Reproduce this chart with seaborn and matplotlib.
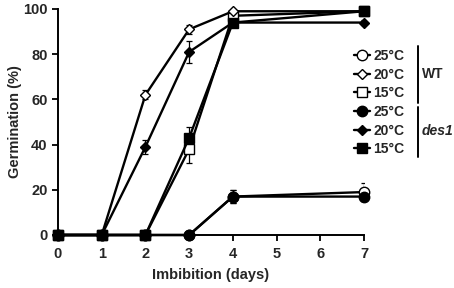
import numpy as np
import pandas as pd
import matplotlib
matplotlib.use("Agg")
import matplotlib.pyplot as plt
import seaborn as sns

# germination time course
days = [0, 1, 2, 3, 4, 7]
wt_25 = [0, 0, 0, 0, 17, 19]
wt_25_err = [0, 0, 0, 0, 3, 4]
wt_20 = [0, 0, 62, 91, 99, 99]
wt_20_err = [0, 0, 2, 2, 1, 1]
wt_15 = [0, 0, 0, 38, 97, 99]
wt_15_err = [0, 0, 0, 6, 1, 1]
des1_25 = [0, 0, 0, 0, 17, 17]
des1_25_err = [0, 0, 0, 0, 3, 2]
des1_20 = [0, 0, 39, 81, 94, 94]
des1_20_err = [0, 0, 3, 5, 1, 1]
des1_15 = [0, 0, 0, 43, 94, 99]
des1_15_err = [0, 0, 0, 5, 1, 1]

temps = ["25°C", "20°C", "15°C"]
x_ticks = [0, 1, 2, 3, 4, 5, 6, 7]
y_ticks = [0, 20, 40, 60, 80, 100]

sns.set_style("ticks")
plt.rcParams["font.family"] = ["Liberation Sans", "DejaVu Sans"]
plt.rcParams["font.weight"] = "bold"

fig = plt.figure(figsize=(4.54, 2.88), dpi=100)
ax = fig.add_axes([58 / 454, 53 / 288, 306 / 454, 226 / 288])

# (values, errors, marker, filled, size)
series = [
    (wt_15, wt_15_err, "s", False, 7.0),
    (wt_20, wt_20_err, "D", False, 5.5),
    (des1_15, des1_15_err, "s", True, 7.0),
    (des1_20, des1_20_err, "D", True, 5.5),
    (wt_25, wt_25_err, "o", False, 7.5),
    (des1_25, des1_25_err, "o", True, 7.5),
]
for vals, err, mk, filled, ms in series:
    ax.errorbar(days, vals, yerr=err, fmt="none", ecolor="black",
                elinewidth=0.9, capsize=2.5, capthick=0.9, zorder=2)
    sns.lineplot(x=days, y=vals, ax=ax, color="black", lw=1.7,
                 marker=mk, markersize=ms, markeredgecolor="black",
                 markeredgewidth=1.0,
                 markerfacecolor="black" if filled else "white",
                 clip_on=False, zorder=3)

ax.set_xlim(0, 7)
ax.set_ylim(0, 100)
ax.set_xticks(x_ticks)
ax.set_yticks(y_ticks)
ax.tick_params(axis="both", labelsize=10.5, width=1.3, length=4, color="black")
ax.tick_params(axis="x", pad=5)
for lab in ax.get_xticklabels() + ax.get_yticklabels():
    lab.set_fontweight("bold")
for s in ["left", "bottom"]:
    ax.spines[s].set_linewidth(1.4)
    ax.spines[s].set_color("black")
sns.despine(ax=ax)
ax.set_xlabel("Imbibition (days)", fontsize=10.5, fontweight="bold", labelpad=5)
ax.set_ylabel("Germination (%)", fontsize=10.5, fontweight="bold")
ax.yaxis.set_label_coords(-0.118, 0.5)

# hand-drawn legend with bracket lines, as in the original
lax = fig.add_axes([0, 0, 1, 1])
lax.set_xlim(0, 454)
lax.set_ylim(288, 0)
lax.axis("off")
leg_markers = [("o", False, 7.5), ("D", False, 5.5), ("s", False, 7.0),
               ("o", True, 7.5), ("D", True, 5.5), ("s", True, 7.0)]
row_y = [55, 74, 92, 111, 130, 148]
for (mk, filled, ms), yy, t in zip(leg_markers, row_y, temps * 2):
    lax.plot([354, 370], [yy, yy], color="black", lw=1.7)
    lax.plot([362], [yy], marker=mk, markersize=ms, color="black",
             markeredgewidth=1.0,
             markerfacecolor="black" if filled else "white")
    lax.text(373, yy + 1, t, fontsize=10, fontweight="bold", va="center", ha="left")
lax.plot([418, 418], [46, 103], color="black", lw=1.4)
lax.plot([418, 418], [107, 157], color="black", lw=1.4)
lax.text(422, 74, "WT", fontsize=10, fontweight="bold", va="center", ha="left")
lax.text(422, 131, "des1", fontsize=10, fontweight="bold", style="italic",
         va="center", ha="left")

fig.savefig("out.png", dpi=100)
